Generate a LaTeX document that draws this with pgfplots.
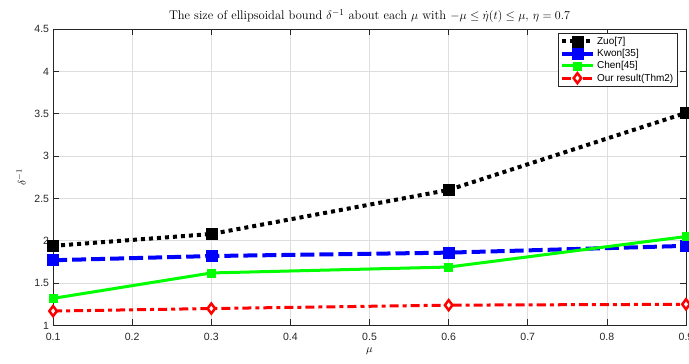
\documentclass[border=0pt]{standalone}
\usepackage{pgfplots}
\pgfplotsset{compat=1.18}
\usepackage{fontspec}
\newfontfamily\hv{Liberation Sans}
\definecolor{axgray}{gray}{0.15}
\definecolor{gridgray}{gray}{0.87}
\begin{document}
\begin{tikzpicture}
\begin{axis}[
  scale only axis,
  width=632pt, height=296pt,
  xmin=0.1, xmax=0.9, ymin=1, ymax=4.5,
  xtick={0.1,0.2,0.3,0.4,0.5,0.6,0.7,0.8,0.9},
  ytick={1,1.5,2,2.5,3,3.5,4,4.5},
  /pgf/number format/assume math mode=true,
  tick label style={font=\hv\fontsize{10.5}{12}\selectfont, text=axgray},
  xticklabel style={yshift=-4pt},
  yticklabel style={xshift=-0.5pt},
  grid=major,
  grid style={gridgray, line width=0.6pt},
  axis line style={axgray, line width=0.6pt},
  tick style={axgray, line width=0.6pt},
  tick align=inside,
  major tick length=6pt,
  title={The size of ellipsoidal bound $\delta^{-1}$ about each $\mu$ with $-\mu\leq\dot{\eta}(t)\leq\mu$, $\eta=0.7$},
  title style={font=\fontsize{12.5}{14}\selectfont, yshift=-3pt},
  xlabel={$\mu$}, ylabel={$\delta^{-1}$},
  xlabel style={font=\fontsize{11}{13}\selectfont, yshift=0pt},
  ylabel style={font=\fontsize{11}{13}\selectfont, yshift=2pt},
  legend style={at={(0.986,0.986)}, anchor=north east, font=\hv\fontsize{10}{12}\selectfont,
    draw=axgray, line width=0.6pt, inner sep=1.5pt, row sep=-0.5pt},
  legend cell align=left,
  legend image code/.code={\draw[mark repeat=2,mark phase=2,#1] plot coordinates {(0cm,0cm) (0.55cm,0cm) (1.1cm,0cm)};},
]
\addplot[black, line width=4pt, dash pattern=on 4pt off 4pt, mark=square*, mark size=5.5pt,
  mark options={solid, line width=0.6pt, fill=black}]
  coordinates {(0.1,1.94) (0.3,2.08) (0.6,2.60) (0.9,3.51)};
\addlegendentry{Zuo[7]}
\addplot[blue, line width=4pt, dash pattern=on 14pt off 5pt, mark=square*, mark size=5.5pt,
  mark options={solid, line width=0.6pt, fill=blue}]
  coordinates {(0.1,1.77) (0.3,1.82) (0.6,1.86) (0.9,1.94)};
\addlegendentry{Kwon[35]}
\addplot[green, line width=3pt, mark=square*, mark size=4pt,
  mark options={solid, line width=0.6pt, fill=green}]
  coordinates {(0.1,1.32) (0.3,1.62) (0.6,1.69) (0.9,2.05)};
\addlegendentry{Chen[45]}
\addplot[red, line width=3pt, dash pattern=on 9pt off 4pt on 4pt off 4pt, mark=diamond*, mark size=5pt,
  mark options={solid, line width=2.5pt, fill=white}]
  coordinates {(0.1,1.17) (0.3,1.20) (0.6,1.24) (0.9,1.25)};
\addlegendentry{Our result(Thm2)}
\end{axis}
\pgfresetboundingbox
\useasboundingbox ([xshift=-53pt,yshift=-38pt]current axis.south west) rectangle ([xshift=3pt,yshift=29pt]current axis.north east);
\end{tikzpicture}
\end{document}
